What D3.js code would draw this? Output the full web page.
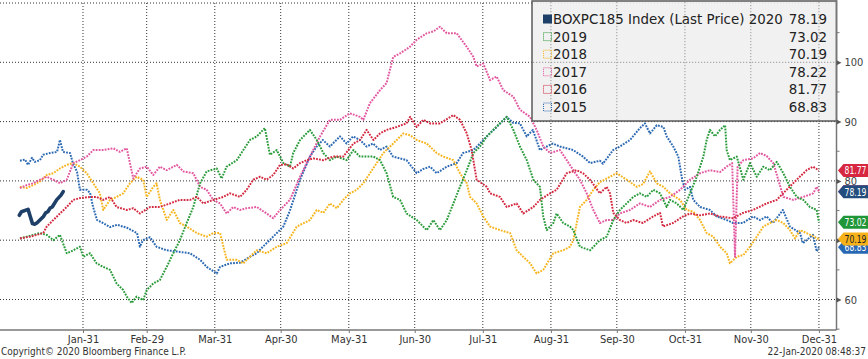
<!DOCTYPE html>
<html><head><meta charset="utf-8">
<script src="https://cdn.jsdelivr.net/npm/d3@7"></script>
<style>
body{margin:0;background:#fff;}
svg{display:block;}
.cond{font-family:"DejaVu Sans Condensed","DejaVu Sans",sans-serif;font-stretch:condensed;}
</style>
</head><body>
<svg id="c" width="868" height="359"></svg>
<script>
// ---------- DATA ----------
const monthDays   = [31,60,91,121,152,182,213,244,274,305,335,366];
const monthLabels = ["Jan-31","Feb-29","Mar-31","Apr-30","May-31","Jun-30","Jul-31","Aug-31","Sep-30","Oct-31","Nov-30","Dec-31"];
const yTicks      = [60,70,80,90,100];
const yGrid       = [60,70,80,90,100,110];
const yMinor      = [55,65,75,85,95,105];

const legendLabels = ["BOXPC185 Index (Last Price) 2020","2019","2018","2017","2016","2015"];
const lastValues   = ["78.19","73.02","70.19","78.22","81.77","68.83"];

// 2020 (day of year, value)
const s2020 = [[2,74.2],[3,74.8],[6,75.2],[7,74.0],[8,72.8],[9,72.7],[10,72.9],[13,74.0],[14,74.6],[15,74.8],[16,75.4],[17,75.6],[19,76.8],[21,77.6],[22,78.19]];

const s2015 = [[2.3,83.4],[4.6,83.6],[6,82.7],[7.8,83.9],[9.1,83.2],[11.4,83.5],[12.8,84.4],[16,84.7],[19.2,84.9],[20.5,86.9],[21.9,84.9],[25.1,84.7],[26.4,83.0],[28.3,81.5],[29.6,78.5],[32.8,78.5],[34.2,78],[35.6,75.6],[37.4,73.4],[40.1,72.9],[43.3,72.2],[46.5,72.6],[51,72.1],[55.6,71.2],[56.9,68.9],[58.3,70],[61.5,70.5],[64.5,68.9],[69.1,68.3],[73.7,68.1],[79.7,67.8],[84.3,66.7],[87.3,65.5],[91.9,64.4],[93.4,65.5],[97.9,66.1],[102.5,66.2],[107,67.2],[110.1,67.8],[112.9,68.9],[117.6,70.6],[122.2,72.3],[125.2,75],[129.8,80.2],[134.3,84.1],[137.4,85.8],[140.2,86.9],[143.4,85.8],[148,87.5],[151,86.3],[153.9,87.5],[157.1,86.9],[160.1,85.8],[163,86.3],[166.2,85.2],[169.2,85.8],[172.1,84.1],[178.3,83.5],[182.9,81.3],[185.8,82],[189,82.4],[192,81.3],[196.6,82.4],[201.1,83],[204,84.7],[208.7,85.2],[211.7,86.3],[214.8,87.5],[219.3,89.1],[223.9,90.8],[226.7,89.8],[229.9,89.7],[233,87.5],[235.8,88.6],[239,85.2],[242.1,85.8],[244.9,86.3],[248.1,85.8],[254.1,85.2],[258.6,84.1],[261.8,83],[266.3,83.4],[267.7,82.9],[272.3,85.2],[275.4,85.8],[280,86.9],[284.5,88.9],[286.8,89.7],[289.1,88],[292.2,89.4],[295.2,89.1],[296.7,87.5],[299.7,85.8],[302,84.1],[303.5,80.7],[305,78.5],[307.3,79],[308.8,76.8],[311.9,75.6],[316.4,75.1],[319.5,74],[324,73.4],[326.9,72.9],[331.4,72.9],[336,74],[339.2,73.4],[342.2,74],[345.1,72.9],[349.6,75.1],[352.8,72.3],[357.4,71.2],[358.7,69.5],[363.3,70.9],[365,68.1],[366,68.83]];

const s2016 = [[2.3,70.3],[6.9,70.6],[9.9,70.9],[12.9,71.2],[14.5,72.3],[17.5,73.4],[20.5,74.5],[23.6,75.6],[26.6,76.8],[29.6,77.1],[34.2,77.3],[37.2,77.3],[40.2,76.8],[43.3,77.3],[46.3,75.6],[50.9,75.1],[53.9,75.4],[56.9,74.5],[61.5,75.6],[66,75.6],[70.6,76.2],[75.1,76.8],[79.7,76.8],[82.8,77.3],[85.8,76.2],[90.3,76.8],[94.9,77.3],[97.9,77.9],[102.5,77.3],[105.5,78.5],[108.5,80.2],[111.6,80.7],[114.6,80.2],[117.6,81],[120.7,82.7],[123.7,82.8],[126.7,82.1],[129.8,83],[132.8,83.5],[135.8,83.8],[140.4,83.5],[144.8,84.1],[149.5,84.1],[154.1,86.3],[157.1,86.9],[160.1,88.6],[163.2,86.9],[166.2,88],[169.2,88.6],[173.8,89.1],[178.3,89.7],[179.9,90.8],[182.9,89.1],[185.9,90.3],[189,89.7],[193.5,89.7],[199.6,91.1],[202.6,90.3],[205.7,88],[207.9,85.2],[210.2,80.2],[214.8,79],[216.3,77.9],[220.8,77.3],[223.9,75.6],[228.4,76.2],[231.4,74.5],[236,75.6],[239,76.8],[243.6,77.9],[246.6,78.5],[251.2,81.3],[255.7,81.8],[258.6,81.3],[261.8,80.2],[266.3,77.9],[269.4,79],[270.9,77.9],[272.4,74.6],[275.4,73.4],[278.5,72.9],[281.4,73.4],[285.9,72.9],[290.5,74],[293.7,74.6],[295,72.3],[299.6,72.9],[304.1,74],[307.3,74.5],[311.9,74.2],[316.4,74.5],[321,74],[326.9,73.7],[331.4,74.6],[336,75.1],[342.2,76.2],[346.8,76.8],[351.3,78.5],[355.9,80.2],[360.4,81.8],[363.3,82.4],[366,81.77]];

const s2017 = [[2.3,78.8],[5.4,79.3],[8.4,79.6],[11.4,80.2],[14.5,80.7],[17.5,80.2],[20.5,79.6],[23.6,80.2],[26.6,83],[29.6,83.5],[32.7,84.1],[35.7,85.2],[40.2,85.2],[44.8,85.5],[47.8,84.9],[50.9,85.5],[53.9,80.4],[56.9,82.1],[60,82.4],[63,81],[66,82.4],[69.1,81.8],[73.7,82.7],[76.7,81.6],[81.2,81.3],[84.3,79],[87.3,78.5],[90.3,76.8],[93.4,76.2],[96.4,74.5],[99.4,75.6],[102.5,75.1],[105.5,75.4],[110.1,75.6],[114.6,74.5],[117.6,73.7],[120.7,75.1],[125.2,76.8],[129.8,80.7],[134.3,84.1],[138.9,87.5],[143.4,90.3],[148,90.3],[152.5,91.4],[157.1,90.8],[158.6,90.3],[161.6,93.1],[166.2,95.3],[169.2,96.5],[172.2,100.9],[175.3,101.5],[179.8,102.6],[182.9,103.8],[187.5,104.9],[190.5,105.2],[193.5,106],[196.6,104.9],[201.1,104.9],[205.7,102.6],[208.7,100.9],[210.2,99.3],[213.2,99.8],[216.3,97],[219.3,97.6],[222.3,95.3],[226.9,94.2],[229.9,92],[234.5,90.8],[237.5,88.6],[240.5,85.8],[243.6,84.7],[248.1,85.2],[251.2,83.5],[254.2,81.8],[257.2,80.2],[260.3,77.9],[263.3,75.1],[266.3,72.9],[269.4,73.4],[272.4,73.4],[275.4,74.5],[280,75.1],[284.5,76.2],[289.1,75.6],[293.7,76.8],[298.2,77.3],[302.8,78.5],[307.3,80.2],[311.9,81.3],[316.4,81.8],[321,81.5],[324,82.4],[326.5,83],[327.8,67.2],[329,82.4],[331.6,83.5],[336,83.8],[339.2,84.7],[342.2,84.2],[345.2,83],[347.5,80.2],[349.8,77.3],[354.3,76.8],[358.9,77.3],[363.4,77.9],[365,79],[366,78.22]];

const s2018 = [[2.3,79],[5.4,78.8],[8.4,79.3],[11.4,79.9],[14.5,81],[17.5,81.3],[20.5,82.1],[23.6,82.7],[26.6,83],[29.6,82.4],[32.7,81.3],[35.7,79.6],[38.7,77.9],[40.2,75.1],[43.3,76.8],[46.3,77.3],[49.3,77.9],[52.4,79.6],[55.4,80.7],[58.4,80.2],[60,77.3],[63,79],[64.5,79.6],[66,76.8],[69.1,73.4],[72.1,75.1],[75.1,72.9],[78.2,72.3],[82.8,71.2],[87.3,70.6],[90.3,71.2],[93.4,71.2],[96.4,66.7],[100.9,66.7],[104,66.1],[107,67.2],[110.1,68.3],[114.6,67.8],[119.2,68.9],[123.7,69.5],[128.3,72.3],[134.3,73.4],[137.4,75.1],[140.4,74.6],[143.4,76.2],[146.5,75.4],[149.5,76.8],[152.5,77.9],[155.6,78.5],[158.6,79.6],[161.6,81.3],[164.7,83],[167.7,84.7],[172.2,86.3],[176.8,88],[179.9,87.7],[182.9,86.9],[187.5,86.3],[192,84.7],[195,84.1],[199.6,83.5],[202.6,81.3],[205.7,79.6],[207.2,77.3],[210.2,76.2],[213.2,74],[216.3,72.3],[220.8,71.7],[225.4,71.2],[228.4,68.3],[231.4,67.2],[234.5,66.1],[237.5,64.4],[240.5,65],[245.1,67.8],[249.6,68.3],[252.7,68.9],[254.2,70],[257.2,75.6],[260.3,76.8],[263.3,78.5],[266.3,79.8],[270.9,80.7],[273.9,81.3],[278.5,80.2],[283.1,79],[286,79.5],[289.1,81.6],[292.2,79.6],[295.2,79],[298.2,77.9],[302.8,76.8],[305.8,75.1],[308.8,74.8],[311.9,73.4],[314.9,71.2],[317.9,70.6],[321,68.9],[324,67.8],[325.5,66.1],[328.6,67.2],[331.6,67.5],[334.6,68.9],[337.7,70.6],[340.7,72.3],[343.7,72.9],[346.8,73.4],[349.8,72.9],[352.8,71.7],[355.1,70.3],[357.4,71.7],[360.4,71.2],[366,70.19]];

const s2019 = [[2.3,70.3],[5.4,70.6],[8.4,70.9],[11.4,71.2],[14.5,70.9],[17.5,70],[20.5,70.9],[23.6,67.8],[26.6,68.3],[29.6,68.9],[31.1,67.2],[34.2,67.8],[37.2,66.1],[40.2,65.5],[43.3,65],[46.3,62.7],[49.3,61.6],[50.9,60.5],[53.2,59.4],[55.4,60.5],[58.4,59.9],[60,61.6],[63,62.7],[66,63.3],[69.1,65.5],[72.1,67.8],[75.1,70],[78.2,72.9],[81.2,75.6],[84.3,79.6],[87.3,81.6],[91.9,82.1],[94.1,80.4],[96.4,82.4],[101,83.5],[104,85.2],[107,86.9],[110.1,87.5],[113.8,88.9],[116.1,84.4],[119.2,85.2],[122.2,83],[125.2,82.4],[126.7,84.7],[129.8,86.9],[134.3,88.6],[137.4,86.9],[140.4,84.7],[143.4,83.5],[146.5,84.1],[151,83.5],[154.1,85.2],[157.1,84.1],[163.2,84.1],[166.2,83.5],[169.2,81.3],[172.2,77.3],[175.3,76.8],[178.3,74.5],[182.9,73.4],[187.5,71.7],[190.5,73.4],[193.5,71.7],[196.6,73.4],[199.6,76.2],[202.6,79],[205.7,81.8],[208.7,84.7],[211.7,85.8],[214.8,87.5],[217.8,88.6],[220.8,89.7],[223.9,90.8],[226.9,88.6],[229.9,85.8],[233,83.5],[236,80.2],[239,79],[240.5,74],[242.1,71.7],[245.1,72.9],[246.6,74.5],[249.6,72.9],[252.7,72.3],[254.2,71.7],[257.2,68.9],[261.8,68.3],[266.3,70],[269.4,70.6],[272.4,73.4],[275.4,75.1],[281.5,77.3],[284.5,77.9],[287.6,77.3],[290.6,78.5],[293.7,77.9],[296.7,75.6],[298.2,76.8],[301.3,76.2],[304.3,75.1],[307.3,77.9],[310.4,80.7],[313.4,84.1],[314.9,86.9],[316.4,88.6],[318.7,87.5],[321,88.6],[323.3,89.4],[324,85.2],[325.5,83.5],[328.6,84.1],[331.6,80.2],[334.6,83],[337.7,80.7],[340.7,82.4],[343.7,81.8],[346.8,83.2],[349.8,81.3],[352.8,79],[355.9,77.3],[358.9,76.8],[361.9,75.6],[365,75.1],[366,73.02]];

// ---------- STYLE ----------
const colors = {s2020:"#1d3f68", s2019:"#2a9b3b", s2018:"#f6b51e", s2017:"#e2579f", s2016:"#d3283f", s2015:"#2c69b3"};
const flagColors = {s2020:"#234d7c", s2019:"#1f9638", s2018:"#f7b21a", s2017:"#e2579f", s2016:"#d7263f", s2015:"#2867b2"};

const svg = d3.select("#c");
const x = d3.scaleLinear().domain([-6.78, 374]).range([0, 836.5]);
const y = d3.scaleLinear().domain([60, 100]).range([299.5, 62.3]);
const axisX = 836.5, axisY = 330;

// gridlines
const grid = svg.append("g");
grid.selectAll(".hg").data(yGrid).join("line")
  .attr("x1", 0).attr("x2", axisX).attr("y1", d => y(d)).attr("y2", d => y(d))
  .attr("stroke", "#333").attr("stroke-width", 1).attr("stroke-dasharray", "1,2");
grid.selectAll(".vg").data(monthDays).join("line")
  .attr("x1", d => x(d)).attr("x2", d => x(d)).attr("y1", y(110)).attr("y2", axisY)
  .attr("stroke", "#333").attr("stroke-width", 1).attr("stroke-dasharray", "1,2");

// series lines
const line = d3.line().x(d => x(d[0])).y(d => y(d[1]));
const order = [["s2015", s2015], ["s2018", s2018], ["s2017", s2017], ["s2019", s2019], ["s2016", s2016]];
order.forEach(([k, data]) => {
  svg.append("path").datum(data).attr("d", line)
    .attr("fill", "none").attr("stroke", colors[k]).attr("stroke-width", 2)
    .attr("stroke-dasharray", "1.8,1.2").attr("stroke-linejoin", "round");
});
svg.append("path").datum(s2020).attr("d", line)
  .attr("fill", "none").attr("stroke", colors.s2020).attr("stroke-width", 3.6)
  .attr("stroke-linejoin", "round").attr("stroke-linecap", "round");

// legend
const lg = svg.append("g");
lg.append("rect").attr("x", 532).attr("y", 1).attr("width", axisX - 532).attr("height", 120)
  .attr("fill", "#efefef").attr("fill-opacity", 0.9).attr("stroke", "#5a5a5a").attr("stroke-width", 1.5);
lg.selectAll(".lgv").data(monthDays.filter(d => x(d) > 532)).join("line")
  .attr("x1", d => x(d)).attr("x2", d => x(d)).attr("y1", 2).attr("y2", 120)
  .attr("stroke", "#999").attr("stroke-dasharray", "1,2");
lg.append("line").attr("x1", 533).attr("x2", axisX).attr("y1", y(100)).attr("y2", y(100))
  .attr("stroke", "#999").attr("stroke-dasharray", "1,2");
const legKeys = ["s2020", "s2019", "s2018", "s2017", "s2016", "s2015"];
const rowY = i => 19 + i * 17.6;
const legFont = "DejaVu Sans, sans-serif";
legKeys.forEach((k, i) => {
  const cy = rowY(i);
  if (i === 0) {
    lg.append("rect").attr("x", 543).attr("y", cy - 4.5).attr("width", 9).attr("height", 9).attr("fill", colors[k]);
  } else {
    lg.append("rect").attr("x", 543.5).attr("y", cy - 4).attr("width", 8).attr("height", 8)
      .attr("fill", "none").attr("stroke", colors[k]).attr("stroke-width", 1).attr("stroke-dasharray", "1,1");
  }
  lg.append("text").attr("x", 553).attr("y", cy + 5).text(legendLabels[i])
    .attr("font-family", legFont).attr("font-size", 13.4).attr("fill", "#222");
  lg.append("text").attr("x", 827).attr("y", cy + 5).attr("text-anchor", "end").text(lastValues[i])
    .attr("font-family", legFont).attr("font-size", 13.4).attr("fill", "#222");
});

// bottom axis
const xAxis = d3.axisBottom(x).tickValues(monthDays).tickFormat((d, i) => monthLabels[i]).tickSize(3).tickSizeOuter(0);
const gx = svg.append("g").attr("transform", `translate(0,${axisY})`).call(xAxis);
gx.select(".domain").attr("d", `M0,0H${axisX}`).attr("stroke", "#777").attr("stroke-width", 1.5);
gx.selectAll(".tick line").attr("stroke", "#777");
gx.selectAll(".tick text").attr("class", "cond").attr("font-size", 11).attr("fill", "#333").attr("dy", "0.62em");

// right axis
const yAxis = d3.axisRight(y).tickValues(yTicks).tickSize(0).tickPadding(8).tickFormat(d3.format("d"));
const gy = svg.append("g").attr("transform", `translate(${axisX},0)`).call(yAxis);
gy.select(".domain").attr("d", `M0,0V${axisY}`).attr("stroke", "#777").attr("stroke-width", 1.5);
gy.selectAll(".tick text").attr("class", "cond").attr("font-size", 11).attr("fill", "#444");
gy.selectAll(".tick").append("path").attr("d", "M0,-2.5L5,0L0,2.5Z").attr("fill", "#555");
gy.selectAll(".minor").data(yMinor).join("line")
  .attr("x1", 0).attr("x2", 3).attr("y1", d => y(d)).attr("y2", d => y(d)).attr("stroke", "#777");

// value flags
const flags = [["s2015", s2015], ["s2016", s2016], ["s2017", s2017], ["s2018", s2018], ["s2019", s2019], ["s2020", s2020]];
flags.forEach(([k, data]) => {
  const v = data[data.length - 1][1];
  const cy = y(v);
  const g = svg.append("g");
  g.append("path").attr("d", `M838,${cy}L843.5,${cy - 6.5}H868V${cy + 6.5}H843.5Z`).attr("fill", flagColors[k]);
  g.append("text").attr("class", "cond").attr("x", 844.5).attr("y", cy + 4)
    .attr("textLength", 22).attr("lengthAdjust", "spacingAndGlyphs")
    .attr("font-size", 11).attr("fill", k === "s2018" ? "#222" : "#fff").text(v.toFixed(2));
});

// footer
svg.append("text").attr("class", "cond").attr("x", 1).attr("y", 355).attr("font-size", 10).attr("fill", "#333")
  .text("Copyright© 2020 Bloomberg Finance L.P.");
svg.append("text").attr("class", "cond").attr("x", 866).attr("y", 355).attr("text-anchor", "end").attr("font-size", 10).attr("fill", "#333")
  .text("22-Jan-2020 08:48:37");
</script>
</body></html>
